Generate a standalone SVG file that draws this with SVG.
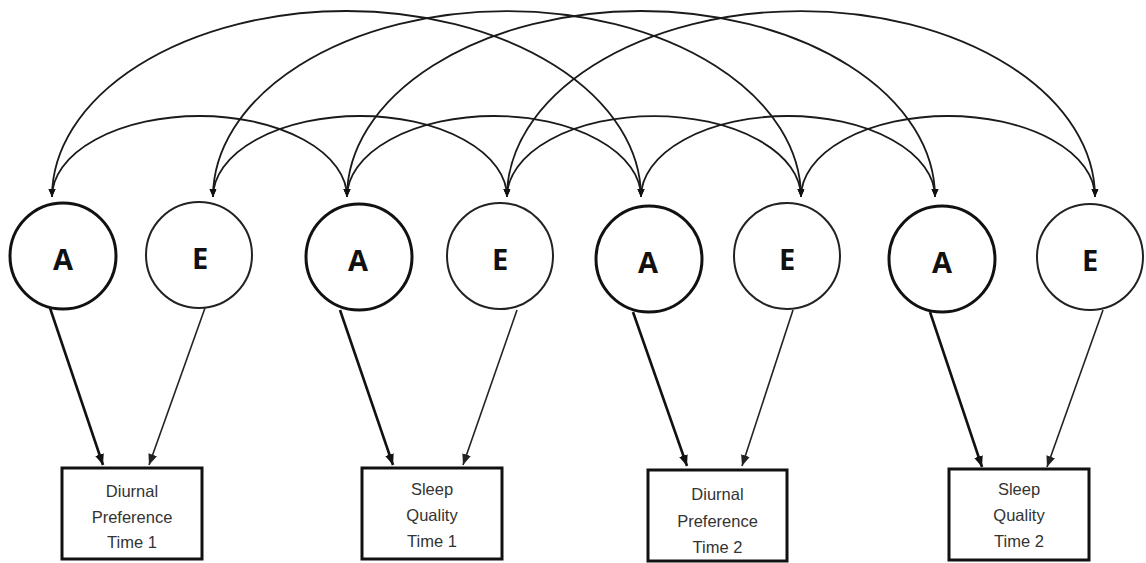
<svg xmlns="http://www.w3.org/2000/svg" width="1146" height="563" viewBox="0 0 1146 563">
<style>
.bg{fill:#fff}
.ca{fill:#fff;stroke:#111;stroke-width:3}
.ce{fill:#fff;stroke:#222;stroke-width:2}
.lt{font-family:"Open Sans","DejaVu Sans",sans-serif;font-weight:bold;font-size:29px;fill:#111;text-anchor:middle}
.bx{fill:#fff;stroke:#111;stroke-width:3}
.bt{font-family:"Liberation Sans",Arial,sans-serif;font-size:16.5px;fill:#333;text-anchor:middle}
.arc{fill:none;stroke:#1a1a1a;stroke-width:1.8;marker-start:url(#ah);marker-end:url(#ah)}
.la{fill:none;stroke:#111;stroke-width:2.6;marker-end:url(#ab)}
.le{fill:none;stroke:#222;stroke-width:1.6;marker-end:url(#ab2)}
</style>
<defs>
<marker id="ah" markerUnits="userSpaceOnUse" markerWidth="9" markerHeight="8" refX="8" refY="3.5" orient="auto-start-reverse" viewBox="0 0 9 8">
<path d="M0,0 L8,3.5 L0,7 z" fill="#111"/>
</marker>
<marker id="ab" markerUnits="userSpaceOnUse" markerWidth="12" markerHeight="10" refX="11" refY="4.5" orient="auto" viewBox="0 0 12 10">
<path d="M0,0 L11,4.5 L0,9 z" fill="#111"/>
</marker>
<marker id="ab2" markerUnits="userSpaceOnUse" markerWidth="12" markerHeight="10" refX="11" refY="4.5" orient="auto" viewBox="0 0 12 10">
<path d="M0,0 L11,4.5 L0,9 z" fill="#222"/>
</marker>
</defs>
<rect class="bg" x="0" y="0" width="1146" height="563"/>
<g id="connectors">
<path class="arc" d="M52,197 A294.5,186 0 0 1 641,197"/>
<path class="arc" d="M213,197 A294,186 0 0 1 801,197"/>
<path class="arc" d="M347,197 A294,186 0 0 1 935,197"/>
<path class="arc" d="M507,197 A294,186 0 0 1 1095,197"/>
<path class="arc" d="M52,197 A147.5,81 0 0 1 347,197"/>
<path class="arc" d="M213,197 A147,81 0 0 1 507,197"/>
<path class="arc" d="M347,197 A147,81 0 0 1 641,197"/>
<path class="arc" d="M507,197 A147,81 0 0 1 801,197"/>
<path class="arc" d="M641,197 A147,81 0 0 1 935,197"/>
<path class="arc" d="M801,197 A147,81 0 0 1 1095,197"/>
<line class="la" x1="50" y1="308" x2="103" y2="465"/>
<line class="le" x1="205" y1="308" x2="149" y2="465"/>
<line class="la" x1="340" y1="310" x2="393" y2="465"/>
<line class="le" x1="517" y1="310" x2="463" y2="465"/>
<line class="la" x1="633" y1="312" x2="687" y2="466"/>
<line class="le" x1="793" y1="310" x2="742" y2="466"/>
<line class="la" x1="930" y1="312" x2="982" y2="467"/>
<line class="le" x1="1103" y1="310" x2="1047" y2="467"/>
</g>
<g id="A1"><circle class="ca" cx="63" cy="256" r="53"/><text class="lt" x="63" y="270">A</text></g>
<g id="E1"><circle class="ce" cx="199" cy="255" r="53"/><text class="lt" x="200" y="269">E</text></g>
<g id="A2"><circle class="ca" cx="359" cy="257" r="53"/><text class="lt" x="358" y="271">A</text></g>
<g id="E2"><circle class="ce" cx="500" cy="256" r="53"/><text class="lt" x="500" y="270">E</text></g>
<g id="A3"><circle class="ca" cx="649" cy="259" r="53"/><text class="lt" x="648" y="273">A</text></g>
<g id="E3"><circle class="ce" cx="787" cy="256" r="53"/><text class="lt" x="787" y="270">E</text></g>
<g id="A4"><circle class="ca" cx="942" cy="259" r="53"/><text class="lt" x="942" y="273">A</text></g>
<g id="E4"><circle class="ce" cx="1090" cy="257" r="53"/><text class="lt" x="1090" y="271">E</text></g>
<g id="box1"><rect class="bx" x="62" y="468" width="140" height="91"/>
<text class="bt" x="132" y="497">Diurnal</text><text class="bt" x="132" y="523">Preference</text><text class="bt" x="132" y="548">Time 1</text></g>
<g id="box2"><rect class="bx" x="362" y="468" width="140" height="91"/>
<text class="bt" x="432" y="495">Sleep</text><text class="bt" x="432" y="521">Quality</text><text class="bt" x="432" y="547">Time 1</text></g>
<g id="box3"><rect class="bx" x="648" y="470" width="139" height="91"/>
<text class="bt" x="717.5" y="500">Diurnal</text><text class="bt" x="717.5" y="527">Preference</text><text class="bt" x="717.5" y="553">Time 2</text></g>
<g id="box4"><rect class="bx" x="949" y="469" width="140" height="91"/>
<text class="bt" x="1019" y="495">Sleep</text><text class="bt" x="1019" y="521">Quality</text><text class="bt" x="1019" y="547">Time 2</text></g>
</svg>
